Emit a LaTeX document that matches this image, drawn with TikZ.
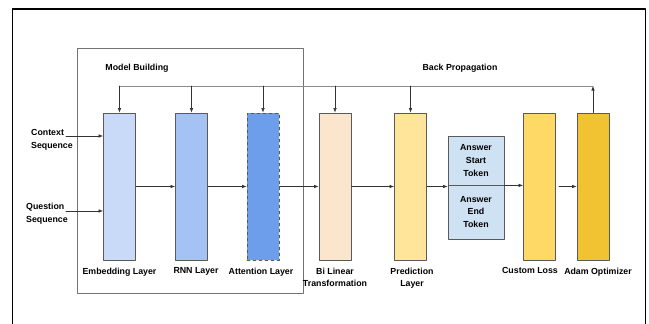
\documentclass[tikz,border=0pt]{standalone}
\usepackage{fontspec}
\setmainfont{Liberation Sans}
\usepackage{xcolor}
\usetikzlibrary{arrows.meta,positioning}
\definecolor{embcol}{HTML}{C9DAF8}
\definecolor{rnncol}{HTML}{A4C2F4}
\definecolor{attcol}{HTML}{6D9EEB}
\definecolor{bilcol}{HTML}{FCE5CD}
\definecolor{predcol}{HTML}{FFE599}
\definecolor{anscol}{HTML}{CFE2F3}
\definecolor{losscol}{HTML}{FFD966}
\definecolor{adamcol}{HTML}{F1C232}
\tikzset{
  every picture/.append style={line cap=round,line join=round},
  qa font/.style={font=\fontsize{8.8}{12.8}\selectfont\bfseries},
  qa layer/.style={draw=black!65,line width=0.8pt,minimum width=32pt,minimum height=147pt,inner sep=0pt},
  qa token/.style={draw=black!65,line width=0.8pt,fill=anscol,minimum width=56pt,inner sep=0pt,qa font,align=center},
  qa label/.style={qa font,align=center,anchor=north,inner sep=0pt},
  qa arrow/.style={draw=black!80,line width=0.6pt,-{Latex[length=4.5pt,width=3.5pt]}},
  qa line/.style={draw=black!45,line width=0.9pt}
}

\begin{document}
\begin{tikzpicture}[x=1pt,y=-1pt]
\useasboundingbox (0,0) rectangle (649,324);
% outer frame (no bottom edge visible)
\draw[line width=1.6pt] (12.5,340) -- (12.5,9) -- (645.5,9) -- (645.5,340);
% model building box
\draw[black!55,line width=0.8pt] (77,48) rectangle (303,293);
\node[qa font] (mbtitle) at (137,68) {Model Building};
\node[qa font] (bptitle) at (460,68) {Back Propagation};

% layers
\foreach \nm/\x/\col in {emb/119.5/embcol,rnn/191.5/rnncol,bil/335/bilcol,pred/410.5/predcol,loss/539.5/losscol,adam/593/adamcol}{
  \node[qa layer,fill=\col] (\nm) at (\x,186.5) {};
}
\node[qa layer,fill=attcol,dashed] (att) at (263,186.5) {};

% answer tokens
\node[qa token,minimum height=49pt] (ansS) at (476,160.5) {Answer\\Start\\Token};
\node[qa token,minimum height=54pt] (ansE) at (476,212) {Answer\\End\\Token};

% labels
\node[qa label] (embl) at (119.5,267.5) {Embedding Layer};
\node[qa label] (rnnl) at (196,267.5) {RNN Layer};
\node[qa label] (attl) at (261,267.5) {Attention Layer};
\node[qa label] (bill) at (335,267.5) {Bi Linear\\Transformation};
\node[qa label] (predl) at (412,267.5) {Prediction\\Layer};
\node[qa label] (lossl) at (530,267.5) {Custom Loss};
\node[qa label] (adaml) at (598,267.5) {Adam Optimizer};

% inputs
\node[qa font,align=left,anchor=west,inner sep=0pt] (ctx) at (31,140) {Context\\Sequence};
\node[qa font,align=left,anchor=west,inner sep=0pt] (qst) at (26,214) {Question\\Sequence};
\coordinate (ctxin) at (66,136);
\coordinate (qstin) at (66,211);
\draw[qa arrow] (ctxin) -- (ctxin -| emb.west);
\draw[qa arrow] (qstin) -- (qstin -| emb.west);

% forward pass
\foreach \a/\b in {emb/rnn,rnn/att,att/bil,bil/pred}{
  \draw[qa arrow] (\a.east) -- (\b.west);
}
\draw[qa arrow] (pred.east) -- (pred.east -| ansS.west);
\draw[qa arrow] (ansS.south east) -- (ansS.south east -| loss.west);
\draw[qa arrow,shorten <=3pt] (loss.east) -- (adam.west);

% back propagation
\coordinate (bpl) at (119.5,86);
\coordinate (bpr) at (593,86);
\draw[qa line] (bpl) -- (bpr);
\draw[qa arrow] (adam.north) -- (bpr);
\foreach \nm in {emb,rnn,att,bil,pred}{
  \draw[qa arrow] (bpl -| \nm.north) -- (\nm.north);
}
\end{tikzpicture}
\end{document}
